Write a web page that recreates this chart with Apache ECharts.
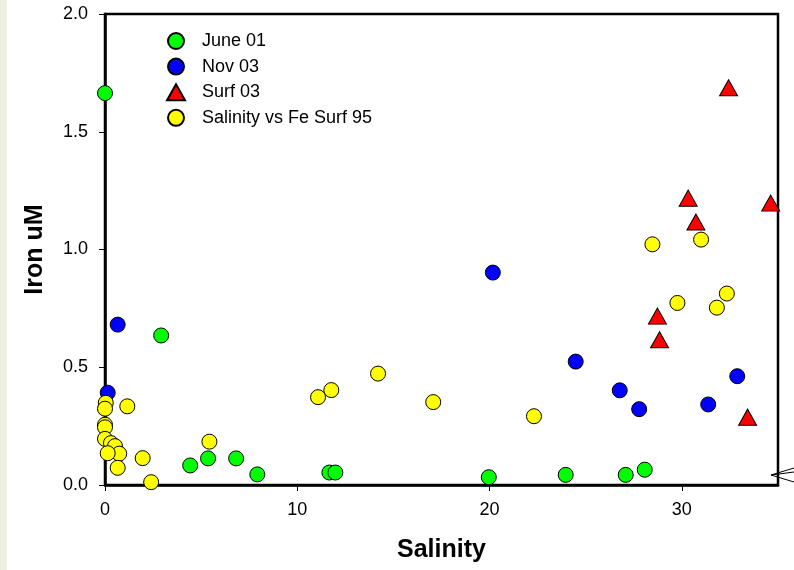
<!DOCTYPE html>
<html>
<head>
<meta charset="utf-8">
<script src="https://cdn.jsdelivr.net/npm/echarts@6/dist/echarts.min.js"></script>
<style>
  html, body { margin: 0; padding: 0; background: #fff; }
  #strip { position: absolute; left: 0; top: 0; width: 7px; height: 570px; background: #eef0e2; }
  #chart { width: 794px; height: 570px; }
</style>
</head>
<body>
<div id="strip"></div>
<div id="chart"></div>
<script>
// salinity / iron pairs
const june01 = [
  [0.0, 1.664], [2.92, 0.635], [4.43, 0.083], [5.36, 0.113], [6.82, 0.113],
  [7.92, 0.045], [11.67, 0.053], [11.98, 0.053], [19.96, 0.033], [23.96, 0.043],
  [27.08, 0.043], [28.07, 0.065]
];
const nov03 = [
  [0.14, 0.392], [0.66, 0.681], [20.17, 0.902], [24.48, 0.524], [26.77, 0.402],
  [27.78, 0.322], [31.37, 0.342], [32.88, 0.462]
];
const surf03 = [
  [32.43, 1.687], [30.33, 1.218], [30.73, 1.117], [34.62, 1.197], [28.73, 0.717],
  [28.84, 0.617], [33.42, 0.288]
];
const surf95 = [
  [28.47, 1.022], [31.0, 1.042], [29.77, 0.773], [31.82, 0.753], [32.34, 0.813],
  [11.08, 0.373], [11.77, 0.403], [14.2, 0.473], [17.07, 0.352], [22.31, 0.292],
  [5.43, 0.184], [2.4, 0.012], [1.96, 0.114], [1.16, 0.334],
  [0.04, 0.349], [0.0, 0.324], [0.0, 0.256], [0.0, 0.245], [0.0, 0.196],
  [0.31, 0.178], [0.52, 0.165], [0.74, 0.133], [0.14, 0.135], [0.66, 0.073]
];
const xTicks = [0, 10, 20, 30];

const font = 'Liberation Sans, Arial, sans-serif';

function scatter(name, data, color, symbol, size) {
  return {
    name: name,
    type: 'scatter',
    data: data,
    symbol: symbol,
    symbolSize: size,
    clip: false,
    itemStyle: { color: color, borderColor: '#000', borderWidth: 1, opacity: 1 },
    emphasis: { disabled: true }
  };
}

const chart = echarts.init(document.getElementById('chart'), null, { renderer: 'canvas' });
chart.setOption({
  animation: false,
  backgroundColor: 'transparent',
  textStyle: { fontFamily: font },
  grid: {
    left: 105, right: 16, top: 14, bottom: 85,
    show: true, borderColor: '#000', borderWidth: 2.5, backgroundColor: 'transparent'
  },
  legend: {
    orient: 'vertical',
    left: 161, top: 27,
    itemWidth: 18, itemHeight: 16, itemGap: 7.6,
    textStyle: { fontSize: 18, color: '#000', fontFamily: font, lineHeight: 16, padding: [0, 0, 0, 12] },
    data: ['June 01', 'Nov 03', 'Surf 03', 'Salinity vs Fe Surf 95']
  },
  xAxis: {
    type: 'value', min: 0, max: 35,
    name: 'Salinity', nameLocation: 'middle', nameGap: 53,
    nameTextStyle: { fontSize: 25, fontWeight: 'bold', color: '#000', fontFamily: font },
    axisLine: { lineStyle: { color: '#000', width: 2.5 } },
    axisTick: { show: true, inside: false, length: 6, lineStyle: { color: '#000', width: 1 }, customValues: xTicks },
    axisLabel: { fontSize: 18, color: '#000', margin: 16, customValues: xTicks },
    splitLine: { show: false }
  },
  yAxis: {
    type: 'value', min: 0, max: 2, interval: 0.5,
    name: 'Iron uM', nameLocation: 'middle', nameGap: 57,
    nameTextStyle: { fontSize: 25, fontWeight: 'bold', color: '#000', fontFamily: font },
    axisLine: { show: true, lineStyle: { color: '#000', width: 2.5 } },
    axisTick: { show: true, inside: false, length: 6, lineStyle: { color: '#000', width: 1 } },
    axisLabel: { fontSize: 18, color: '#000', margin: 17, formatter: v => v.toFixed(1) },
    splitLine: { show: false }
  },
  series: [
    scatter('June 01', june01, '#00ff00', 'circle', 15),
    scatter('Nov 03', nov03, '#0000ff', 'circle', 15),
    scatter('Surf 03', surf03, '#ff0000', 'triangle', [18, 16]),
    scatter('Salinity vs Fe Surf 95', surf95, '#ffff00', 'circle', 15)
  ],
  graphic: [
    {
      type: 'polyline', silent: true,
      shape: { points: [[794, 468], [771, 475], [794, 482]] },
      style: { stroke: '#000', lineWidth: 1, fill: null }
    },
    {
      type: 'line', silent: true,
      shape: { x1: 771, y1: 475, x2: 794, y2: 472 },
      style: { stroke: '#000', lineWidth: 1 }
    }
  ]
});
</script>
</body>
</html>
